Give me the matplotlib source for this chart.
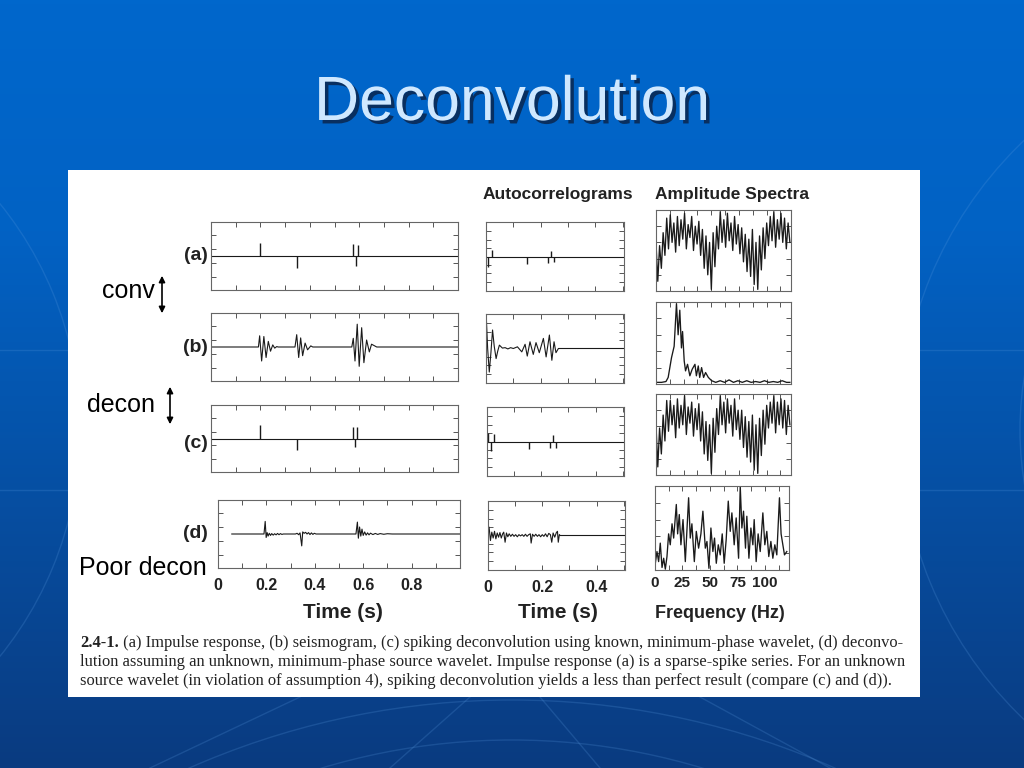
import numpy as np
import matplotlib
matplotlib.use("Agg")
import matplotlib.pyplot as plt
from matplotlib.patches import Rectangle, Arc, FancyArrowPatch
from matplotlib.colors import LinearSegmentedColormap
import matplotlib.patheffects as pe

plt.rcParams['font.family'] = ['Liberation Sans', 'DejaVu Sans']

W, H = 1024, 768

# ---- (a) impulse response: spike times (s) and amplitudes
imp_t = [0.200, 0.347, 0.576, 0.586, 0.595]
imp_v = [0.93, -0.88, 0.88, -0.72, 0.80]

# ---- (b) seismogram, vertices
seis_t = [0.0, 0.192, 0.197, 0.205, 0.214, 0.223, 0.232, 0.241, 0.250, 0.258, 0.266, 0.272,
          0.340, 0.347, 0.355, 0.363, 0.371, 0.381, 0.391, 0.404, 0.412,
          0.570, 0.576, 0.583, 0.592, 0.600, 0.610, 0.619, 0.630, 0.641, 0.650, 0.671, 1.0]
seis_v = [0, 0, 0.8, -1.0, 0.75, -0.75, 0.4, -0.3, 0.15, -0.08, 0.03, 0,
          0, 0.88, -0.75, 0.65, -0.62, 0.28, -0.2, 0.08, 0,
          0, 0.62, -1.0, 1.63, -1.38, 1.38, -1.12, 0.5, -0.35, 0.2, 0, 0]

# ---- (c) spiking decon, known wavelet
dec_t = [0.200, 0.347, 0.574, 0.583, 0.592]
dec_v = [1.0, -0.85, 0.85, -0.6, 0.80]

# ---- (d) poor decon
poor_t = [0.057, 0.190, 0.195, 0.199, 0.203, 0.207, 0.212, 0.217, 0.222, 0.228, 0.234, 0.240,
          0.246, 0.252, 0.258, 0.264, 0.270, 0.320, 0.327, 0.333, 0.339, 0.346, 0.350, 0.356,
          0.362, 0.368, 0.374, 0.380, 0.386, 0.392, 0.398, 0.405, 0.570, 0.576, 0.580, 0.585,
          0.590, 0.595, 0.600, 0.606, 0.612, 0.618, 0.624, 0.630, 0.640, 0.650, 0.660, 0.670,
          0.685, 0.700, 0.720, 1.0]
poor_v = [0, 0, 0.9, -0.25, 0.1, -0.15, 0.05, -0.1, 0.03, -0.08, 0.02, -0.06,
          0.04, -0.05, 0.03, -0.03, 0, 0, 0.05, -0.05, 0.08, -0.85, 0.15, 0.05,
          0.12, 0.0, 0.1, -0.04, 0.08, -0.03, 0.05, 0, 0, 0.85, -0.3, 0.5,
          -0.15, 0.35, -0.1, 0.15, -0.08, 0.08, -0.06, 0.06, -0.04, 0.04, -0.03, 0.03,
          -0.02, 0.02, 0, 0]

# ---- autocorrelograms (lag in s)
ac_a_lag = [0.008, 0.023, 0.149, 0.228, 0.238, 0.249]
ac_a_val = [-1.2, 0.8, -0.9, -0.8, 0.7, -0.7]

ac_b_lag = [0.0, 0.006, 0.012, 0.018, 0.024, 0.030, 0.037, 0.043, 0.049, 0.060, 0.070, 0.080,
            0.090, 0.100, 0.115, 0.131, 0.143, 0.151, 0.161, 0.173, 0.183, 0.195, 0.210,
            0.220, 0.232, 0.241, 0.249, 0.256, 0.265, 0.505]
ac_b_val = [4.5, 0, -2.8, -0.5, 2.2, 0.3, -1.2, -0.3, 0.4, 0.05, 0.1, -0.05,
            0.1, 0.0, 0.2, -0.4, 0.5, -0.9, 0.8, -0.7, 0.7, -0.5, 1.2,
            -1.0, 1.6, -1.4, 0.8, -0.5, 0, 0]

ac_c_lag = [0.003, 0.015, 0.024, 0.155, 0.234, 0.244, 0.254]
ac_c_val = [1.0, -1.1, 0.9, -0.9, -0.8, 0.75, -0.8]

ac_d_lag = [0.0, 0.004, 0.009, 0.014, 0.019, 0.024, 0.029, 0.034, 0.039, 0.044, 0.049, 0.054,
            0.058, 0.063, 0.068, 0.073, 0.078, 0.084, 0.090, 0.096, 0.102, 0.108, 0.114,
            0.120, 0.126, 0.132, 0.138, 0.144, 0.150, 0.156, 0.159, 0.164, 0.170, 0.176,
            0.182, 0.188, 0.194, 0.200, 0.206, 0.212, 0.218, 0.224, 0.230, 0.235, 0.240,
            0.246, 0.252, 0.256, 0.259, 0.263, 0.266, 0.505]
ac_d_val = [0, 1.0, -0.6, 0.4, -0.3, 0.5, -0.4, 0.3, -0.2, 0.35, -0.3, 0.2,
            0.4, -0.8, 0.3, -0.15, 0.2, -0.1, 0.15, -0.1, 0.1, -0.15, 0.1,
            -0.05, 0.1, -0.1, 0.15, -0.1, 0.1, 0.2, -0.9, 0.15, -0.1, 0.15,
            -0.1, 0.1, -0.15, 0.1, -0.1, 0.2, -0.15, 0.25, 0.1, -0.8, 0.3,
            -0.2, 0.35, 0.5, -0.8, 0.1, 0, 0]

# ---- amplitude spectra (0..121 Hz, evenly sampled)
spec_a = [3.0, 0.6, 2.8, 1.4,
          3.6, 2.2, 4.5, 2.6, 4.7, 3.0, 4.2, 2.4, 4.6,
          2.8, 4.4, 3.2, 4.8, 2.6, 4.1, 3.3, 4.6, 2.5, 4.0, 2.9, 4.3, 2.2,
          3.8, 1.4, 3.4, 1.0, 3.0, 0.1, 3.6, 1.5, 4.0,
          2.6, 4.9, 3.0, 4.4, 2.7, 4.8, 3.1, 4.2, 2.5, 4.6, 2.9, 4.1, 2.3,
          3.9, 1.8, 3.5, 1.2, 3.2, 0.9, 3.8, 0.4, 3.0, 0.1, 3.4, 1.3, 3.9, 2.0, 4.2,
          2.8, 4.6, 3.1, 4.9, 2.7, 4.4, 3.2, 4.8, 3.0, 4.5, 2.6, 4.2, 3.0]
spec_c = [3.1, 0.5, 2.9, 1.3,
          3.7, 2.1, 4.6, 2.7, 4.6, 3.1, 4.3, 2.3, 4.7,
          2.9, 4.3, 3.1, 4.9, 2.5, 4.2, 3.2, 4.5, 2.4, 4.1, 2.8, 4.4, 2.1,
          3.9, 1.3, 3.3, 0.9, 3.1, 0.1, 3.5, 1.4, 4.1,
          2.5, 4.9, 3.1, 4.5, 2.6, 4.7, 3.2, 4.3, 2.4, 4.7, 2.8, 4.0, 2.2,
          4.0, 1.7, 3.6, 1.1, 3.3, 0.8, 3.7, 0.3, 3.1, 0.1, 3.5, 1.2, 4.0, 1.9, 4.3,
          2.9, 4.5, 3.2, 4.9, 2.6, 4.5, 3.1, 4.7, 2.9, 4.6, 2.5, 4.3, 3.1]

spec_b_f = [0, 5, 9, 11, 14, 16.4, 18.5, 20, 21.5, 23, 24, 25.5, 26.7, 28.5, 30.6, 32.7,
            35.2, 36.5, 38.2, 39.5, 41.2, 43, 44.8, 47.3, 50.3, 54, 58, 62, 66, 70, 74,
            78, 82, 86, 90, 94, 98, 102, 106, 110, 114, 118, 121]
spec_b_v = [0.1, 0.1, 0.15, 0.4, 1.6, 2.3, 4.9, 3.0, 4.5, 2.2, 3.2, 1.4, 0.8, 1.2, 0.5, 0.9,
            1.2, 0.5, 1.1, 0.4, 1.0, 0.4, 0.7, 0.4, 0.2, 0.1, 0.2, 0.1, 0.25, 0.1, 0.2,
            0.1, 0.2, 0.1, 0.15, 0.1, 0.2, 0.1, 0.15, 0.1, 0.2, 0.1, 0.1]

spec_d_f = [0.3, 1.8, 3.3, 4.8, 6.4, 7.9, 9.4, 10.9, 12.4, 13.9, 15.5, 17.0, 19.4, 20.6,
            22.1, 23.6, 25.5, 27.6, 30.6, 32.1, 33.6, 35.8, 37.6, 39.7, 41.8, 43.6, 45.8,
            47.3, 49.1, 50.9, 52.7, 54.2, 55.8, 57.6, 59.4, 61.2, 63.0, 64.8, 66.7, 68.5,
            70.0, 72.1, 73.9, 76.1, 77.6, 79.1, 80.6, 82.4, 83.6, 85.5, 87.3, 89.1, 90.3,
            92.1, 93.9, 95.8, 98.2, 100.0, 101.8, 103.6, 105.5, 107.3, 109.1, 110.9, 113.3,
            114.8, 116.4, 117.9, 120.0]
spec_d_v = [0.4, 1.1, 0.5, 1.6, 0.15, 0.7, 0.05, 0.8, 2.15, 1.5, 2.75, 1.9, 3.9, 2.15,
            3.3, 1.5, 3.0, 0.5, 4.3, 1.9, 2.75, 0.5, 2.3, 1.3, 2.15, 3.5, 1.3,
            1.7, 0.1, 2.5, 1.1, 1.9, 0.4, 1.5, 0.9, 2.15, 0.4, 1.8, 4.1, 2.3,
            3.4, 1.5, 3.1, 0.7, 5.0, 2.5, 3.5, 1.3, 3.2, 0.7, 2.5, 1.5, 3.0,
            0.5, 2.15, 1.1, 3.4, 1.5, 2.3, 0.8, 1.7, 0.7, 1.5, 0.9, 4.3,
            2.15, 1.5, 0.9, 1.1]

time_ticks = [0, 0.1, 0.2, 0.3, 0.4, 0.5, 0.6, 0.7, 0.8, 0.9]
time_labels = ['0', '', '0.2', '', '0.4', '', '0.6', '', '0.8', '']
lag_ticks = [0, 0.1, 0.2, 0.3, 0.4, 0.5]
lag_labels = ['0', '', '0.2', '', '0.4', '']
freq_ticks = [0, 12.5, 25, 37.5, 50, 62.5, 75, 87.5, 100, 112.5]
freq_labels = ['0', '', '25', '', '50', '', '75', '', '100', '']

row_labels = ['(a)', '(b)', '(c)', '(d)']

caption = [
    " (a) Impulse response, (b) seismogram, (c) spiking deconvolution using known, minimum-phase wavelet, (d) deconvo-",
    "lution assuming an unknown, minimum-phase source wavelet. Impulse response (a) is a sparse-spike series. For an unknown",
    "source wavelet (in violation of assumption 4), spiking deconvolution yields a less than perfect result (compare (c) and (d)).",
]


def box(x0, y0, x1, y1):
    return [x0 / W, 1 - y1 / H, (x1 - x0) / W, (y1 - y0) / H]


def fy(py):
    return 1 - py / H


fig = plt.figure(figsize=(10.24, 7.68), dpi=100)

# background
bg = fig.add_axes([0, 0, 1, 1])
bg.set_xlim(0, W)
bg.set_ylim(H, 0)
bg.axis('off')
cmap = LinearSegmentedColormap.from_list('slide', [(0, '#0067cc'), (0.3, '#0262c4'), (1, '#0a3b80')])
bg.imshow(np.linspace(0, 1, 256).reshape(-1, 1), cmap=cmap, aspect='auto',
          extent=(0, W, H, 0), zorder=0)
# faint globe lines of the slide template
glow = dict(color='#5b9be0', lw=1.0, alpha=0.22, zorder=1)
for yy in [350, 490]:
    bg.plot([0, W], [yy, yy], **glow)
for cx, cy, r in [(512, 1500, 800), (512, 1400, 660), (1300, 430, 400), (1350, 430, 330),
                  (-280, 430, 360)]:
    bg.add_patch(Arc((cx, cy), 2 * r, 2 * r, **glow))
for x0, x1 in [(470, 390), (540, 600), (300, 150), (700, 830)]:
    bg.plot([x0, x1], [697, 768], **glow)
bg.add_patch(Rectangle((68, 170), 852, 527, facecolor='white', edgecolor='none', zorder=2))

# title
fig.text(0.5, fy(120), 'Deconvolution', ha='center', va='baseline', fontsize=45,
         color='#cfe8ff',
         path_effects=[pe.withSimplePatchShadow(offset=(2.5, -2.5), shadow_rgbFace='#0a2a55', alpha=0.9)])


def style(ax, xlim, ylim, xt, yt):
    ax.set_xlim(xlim)
    ax.set_ylim(ylim)
    ax.set_xticks(xt)
    ax.set_yticks(yt)
    ax.tick_params(direction='in', length=3.5, width=0.7, color='#555', top=True, right=True,
                   labelbottom=False, labelleft=False)
    for s in ax.spines.values():
        s.set_color('#666')
        s.set_linewidth(0.8)


ink = '#1a1a1a'
trace_ylim = (-2.43, 2.43)
trace_yt = [-1.5, -0.5, 0.5, 1.5]
ac_ylim = (-4.1, 4.1)
ac_yt = [-3, -2, -1, 1, 2, 3]

col1 = [(211, 222, 458, 290), (211, 313, 458, 381), (211, 405, 458, 472), (218, 500, 460, 568)]
col2 = [(486, 222, 624, 291), (486, 314, 624, 383), (487, 407, 624, 476), (488, 501, 625, 570)]
col3 = [(656, 210, 791, 291), (656, 302, 791, 384), (656, 394, 791, 475), (655, 486, 789, 570)]

axes1 = [fig.add_axes(box(*b)) for b in col1]
axes2 = [fig.add_axes(box(*b)) for b in col2]
axes3 = [fig.add_axes(box(*b)) for b in col3]

for ax in axes1:
    style(ax, (0, 1.0), trace_ylim, time_ticks, trace_yt)
for ax in axes2:
    style(ax, (0, 0.505), ac_ylim, lag_ticks, ac_yt)
for ax in axes3:
    style(ax, (0, 122), (0, 5), freq_ticks, [1, 2, 3, 4])

# column 1 traces
axes1[0].axhline(0, color=ink, lw=0.8)
axes1[0].vlines(imp_t, 0, imp_v, color=ink, lw=1.0)
axes1[1].plot(seis_t, seis_v, color=ink, lw=0.8)
axes1[2].axhline(0, color=ink, lw=0.8)
axes1[2].vlines(dec_t, 0, dec_v, color=ink, lw=1.0)
axes1[3].plot(poor_t, poor_v, color=ink, lw=0.8)

# column 2 autocorrelograms
axes2[0].axhline(0, color=ink, lw=0.8)
axes2[0].vlines(ac_a_lag, 0, ac_a_val, color=ink, lw=1.0)
axes2[1].plot(ac_b_lag, ac_b_val, color=ink, lw=0.8)
axes2[2].axhline(0, color=ink, lw=0.8)
axes2[2].vlines(ac_c_lag, 0, ac_c_val, color=ink, lw=1.0)
axes2[3].plot(ac_d_lag, ac_d_val, color=ink, lw=0.8)

# column 3 spectra
axes3[0].plot(np.linspace(0, 121, len(spec_a)), spec_a, color=ink, lw=0.95)
axes3[1].plot(spec_b_f, spec_b_v, color=ink, lw=0.95)
axes3[2].plot(np.linspace(0, 121, len(spec_c)), spec_c, color=ink, lw=0.95)
axes3[3].plot(spec_d_f, spec_d_v, color=ink, lw=0.95)

# bottom tick labels
for ax, labels, pad, fs in [(axes1[3], time_labels, 7, 11.5), (axes2[3], lag_labels, 7, 11.5),
                            (axes3[3], freq_labels, 4, 11)]:
    ax.tick_params(labelbottom=True, pad=pad)
    ax.set_xticklabels(labels, fontsize=fs, fontweight='bold', color='#222')

# axis titles and headers
fig.text(343 / W, fy(613), 'Time (s)', ha='center', va='center', fontsize=15, fontweight='bold', color='#222')
fig.text(558 / W, fy(613), 'Time (s)', ha='center', va='center', fontsize=15, fontweight='bold', color='#222')
fig.text(720 / W, fy(613), 'Frequency (Hz)', ha='center', va='center', fontsize=13, fontweight='bold', color='#222')
fig.text(558 / W, fy(194), 'Autocorrelograms', ha='center', va='center', fontsize=12.5, fontweight='bold', color='#222')
fig.text(732 / W, fy(194), 'Amplitude Spectra', ha='center', va='center', fontsize=12.5, fontweight='bold', color='#222')

for lab, yy in zip(row_labels, [255, 347, 444, 533]):
    fig.text(208 / W, fy(yy), lab, ha='right', va='center', fontsize=14, fontweight='bold', color='#222')

# slide annotations
fig.text(102 / W, fy(291), 'conv', ha='left', va='center', fontsize=18, color='black')
fig.text(87 / W, fy(405), 'decon', ha='left', va='center', fontsize=18, color='black')
fig.text(79 / W, fy(568), 'Poor decon', ha='left', va='center', fontsize=18, color='black')
for xx, y0, y1 in [(162, 273, 316), (170, 384, 427)]:
    fig.add_artist(FancyArrowPatch((xx / W, fy(y0)), (xx / W, fy(y1)), transform=fig.transFigure,
                                   arrowstyle='<|-|>', mutation_scale=9, lw=1.2, color='black'))

# caption
renderer = fig.canvas.get_renderer()
cap_size = 12
head = fig.text(80 / W, fy(643), '2.4-1.', ha='left', va='center', fontsize=cap_size,
                fontweight='bold', family='Liberation Serif', color='#222')
hw = head.get_window_extent(renderer).width
rest = fig.text((80 + hw) / W, fy(643), caption[0], ha='left', va='center', fontsize=cap_size,
                family='Liberation Serif', color='#222')
tot = hw + rest.get_window_extent(renderer).width
scale = 826 / tot
cap_size = cap_size * scale
head.set_fontsize(cap_size)
hw = head.get_window_extent(renderer).width
rest.set_fontsize(cap_size)
rest.set_x((80 + hw) / W)
for line, yy in zip(caption[1:], [662, 681]):
    fig.text(80 / W, fy(yy), line, ha='left', va='center', fontsize=cap_size,
             family='Liberation Serif', color='#222')

fig.savefig('out.png', dpi=100)
